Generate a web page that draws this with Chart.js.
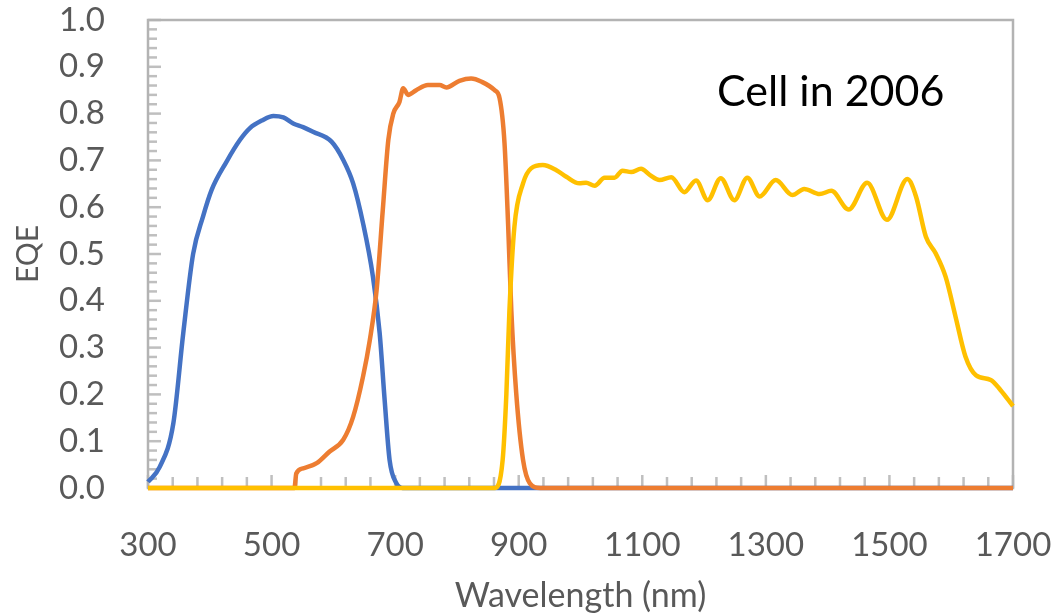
<!DOCTYPE html>
<html>
<head>
<meta charset="utf-8">
<title>EQE - Cell in 2006</title>
<script src="https://cdn.jsdelivr.net/npm/chart.js@4.4.1/dist/chart.umd.min.js"></script>
<style>
  html, body { margin: 0; padding: 0; background: #fff; }
  #wrap { width: 1055px; height: 613px; }
</style>
</head>
<body>
<div id="wrap"><canvas id="eqe"></canvas></div>
<script>
// --- données ---
const blueWl  = [300, 319, 341, 357, 373, 389, 403, 427, 449, 465, 484, 503, 519, 535, 551, 567, 597, 616, 632, 648, 664, 675, 683, 691, 702, 712, 1700];
const blueEqe = [0.013, 0.045, 0.138, 0.33, 0.50, 0.58, 0.637, 0.697, 0.744, 0.769, 0.785, 0.795, 0.792, 0.779, 0.771, 0.761, 0.740, 0.701, 0.651, 0.566, 0.452, 0.33, 0.188, 0.06, 0.01, 0, 0];

const orangeWl  = [300, 537, 540, 551, 573, 594, 616, 632, 648, 659, 670, 680, 689, 697, 707, 713, 721, 734, 753, 772, 783, 804, 823, 840, 861, 869, 877, 883, 888, 896, 907, 918, 935, 1700];
const orangeEqe = [0, 0, 0.031, 0.042, 0.053, 0.078, 0.103, 0.152, 0.238, 0.316, 0.423, 0.594, 0.744, 0.80, 0.825, 0.854, 0.84, 0.850, 0.861, 0.861, 0.856, 0.870, 0.875, 0.868, 0.850, 0.833, 0.737, 0.558, 0.380, 0.202, 0.06, 0.01, 0, 0];

const yellowWl  = [300, 861, 874, 880, 885, 893, 907, 920, 939, 961, 977, 998, 1009, 1023, 1039, 1055, 1068, 1082, 1098, 1112, 1128, 1147, 1168, 1187, 1206, 1227, 1249, 1270, 1290, 1316, 1343, 1362, 1387, 1406, 1434, 1464, 1496, 1529, 1543, 1559, 1575, 1591, 1607, 1623, 1640, 1664, 1680, 1700];
const yellowEqe = [0, 0, 0.06, 0.20, 0.38, 0.558, 0.651, 0.683, 0.690, 0.679, 0.665, 0.651, 0.652, 0.646, 0.663, 0.663, 0.678, 0.675, 0.682, 0.669, 0.658, 0.664, 0.632, 0.657, 0.615, 0.662, 0.615, 0.663, 0.623, 0.658, 0.626, 0.639, 0.628, 0.635, 0.595, 0.652, 0.573, 0.660, 0.623, 0.537, 0.501, 0.451, 0.366, 0.281, 0.241, 0.231, 0.209, 0.175];

const xTicks = [300, 500, 700, 900, 1100, 1300, 1500, 1700];
const yTicks = [0, 0.1, 0.2, 0.3, 0.4, 0.5, 0.6, 0.7, 0.8, 0.9, 1.0];

const FONT = "Lato, 'Open Sans', sans-serif";
const GREY_TXT = '#595959';
const GREY_AXIS = '#bfbfbf';

function toPoints(xs, ys) {
    return xs.map((x, i) => ({ x: x, y: ys[i] }));
}

// cadre + graduations mineures façon Excel (sous les courbes)
const frameTicks = {
    id: 'frameTicks',
    beforeDatasetsDraw(chart) {
        const { ctx, chartArea: a, scales: { x, y } } = chart;
        ctx.save();
        ctx.strokeStyle = GREY_AXIS;
        ctx.lineWidth = 2.5;
        // graduations Y (0.02)
        for (let i = 0; i <= 50; i++) {
            const py = y.getPixelForValue(i * 0.02);
            const len = i % 5 === 0 ? 13 : 9;
            ctx.beginPath();
            ctx.moveTo(a.left, py);
            ctx.lineTo(a.left + len, py);
            ctx.stroke();
        }
        // graduations X (40 nm)
        for (let v = 300; v <= 1700; v += 40) {
            const px = x.getPixelForValue(v);
            const len = (v - 300) % 200 === 0 ? 13 : 11;
            ctx.beginPath();
            ctx.moveTo(px, a.bottom);
            ctx.lineTo(px, a.bottom - len);
            ctx.stroke();
        }
        ctx.strokeStyle = '#b3b3b3';
        ctx.lineWidth = 2.5;
        ctx.strokeRect(a.left, a.top, a.right - a.left, a.bottom - a.top);
        ctx.restore();
    },
    afterDraw(chart) {
        const { ctx, scales: { x, y } } = chart;
        ctx.save();
        ctx.fillStyle = '#000';
        ctx.font = '43px ' + FONT;
        ctx.textBaseline = 'middle';
        ctx.textAlign = 'left';
        ctx.fillText('Cell in 2006', x.getPixelForValue(1221), y.getPixelForValue(0.846));
        ctx.restore();
    }
};

function noPad(s) {
    s.paddingTop = 0; s.paddingBottom = 0; s.paddingLeft = 0; s.paddingRight = 0;
}

const lineStyle = { borderWidth: 4.5, pointRadius: 0, showLine: true, fill: false, cubicInterpolationMode: 'monotone', clip: false };

new Chart(document.getElementById('eqe'), {
    type: 'scatter',
    data: {
        datasets: [
            Object.assign({ label: 'Top', data: toPoints(blueWl, blueEqe), borderColor: '#4472C4', order: 3 }, lineStyle),
            Object.assign({ label: 'Middle', data: toPoints(orangeWl, orangeEqe), borderColor: '#ED7D31', order: 2 }, lineStyle),
            Object.assign({ label: 'Bottom', data: toPoints(yellowWl, yellowEqe), borderColor: '#FFC000', order: 1 }, lineStyle)
        ]
    },
    options: {
        responsive: true,
        maintainAspectRatio: false,
        animation: false,
        layout: { padding: { left: 0, right: 42, top: 20, bottom: 0 } },
        plugins: { legend: { display: false }, tooltip: { enabled: false } },
        scales: {
            x: {
                type: 'linear',
                min: 300, max: 1700,
                afterBuildTicks: s => { s.ticks = xTicks.map(v => ({ value: v })); },
                afterFit: s => { s.height = 125; noPad(s); },
                grid: { display: false, drawTicks: false },
                border: { display: false },
                ticks: { color: GREY_TXT, font: { family: FONT, size: 33 }, padding: 38, maxRotation: 0, autoSkip: false, callback: v => String(v) },
                title: { display: true, text: 'Wavelength (nm)', color: GREY_TXT, font: { family: FONT, size: 34 }, padding: { top: 0, bottom: -3 } }
            },
            y: {
                min: 0, max: 1,
                afterBuildTicks: s => { s.ticks = yTicks.map(v => ({ value: v })); },
                afterFit: s => { s.width = 148; noPad(s); },
                grid: { display: false, drawTicks: false },
                border: { display: false },
                ticks: { color: GREY_TXT, font: { family: FONT, size: 33 }, padding: 43, callback: v => v.toFixed(1) },
                title: { display: true, text: 'EQE', color: GREY_TXT, font: { family: FONT, size: 30 }, padding: { top: 10, bottom: 0 } }
            }
        }
    },
    plugins: [frameTicks]
});
</script>
</body>
</html>
